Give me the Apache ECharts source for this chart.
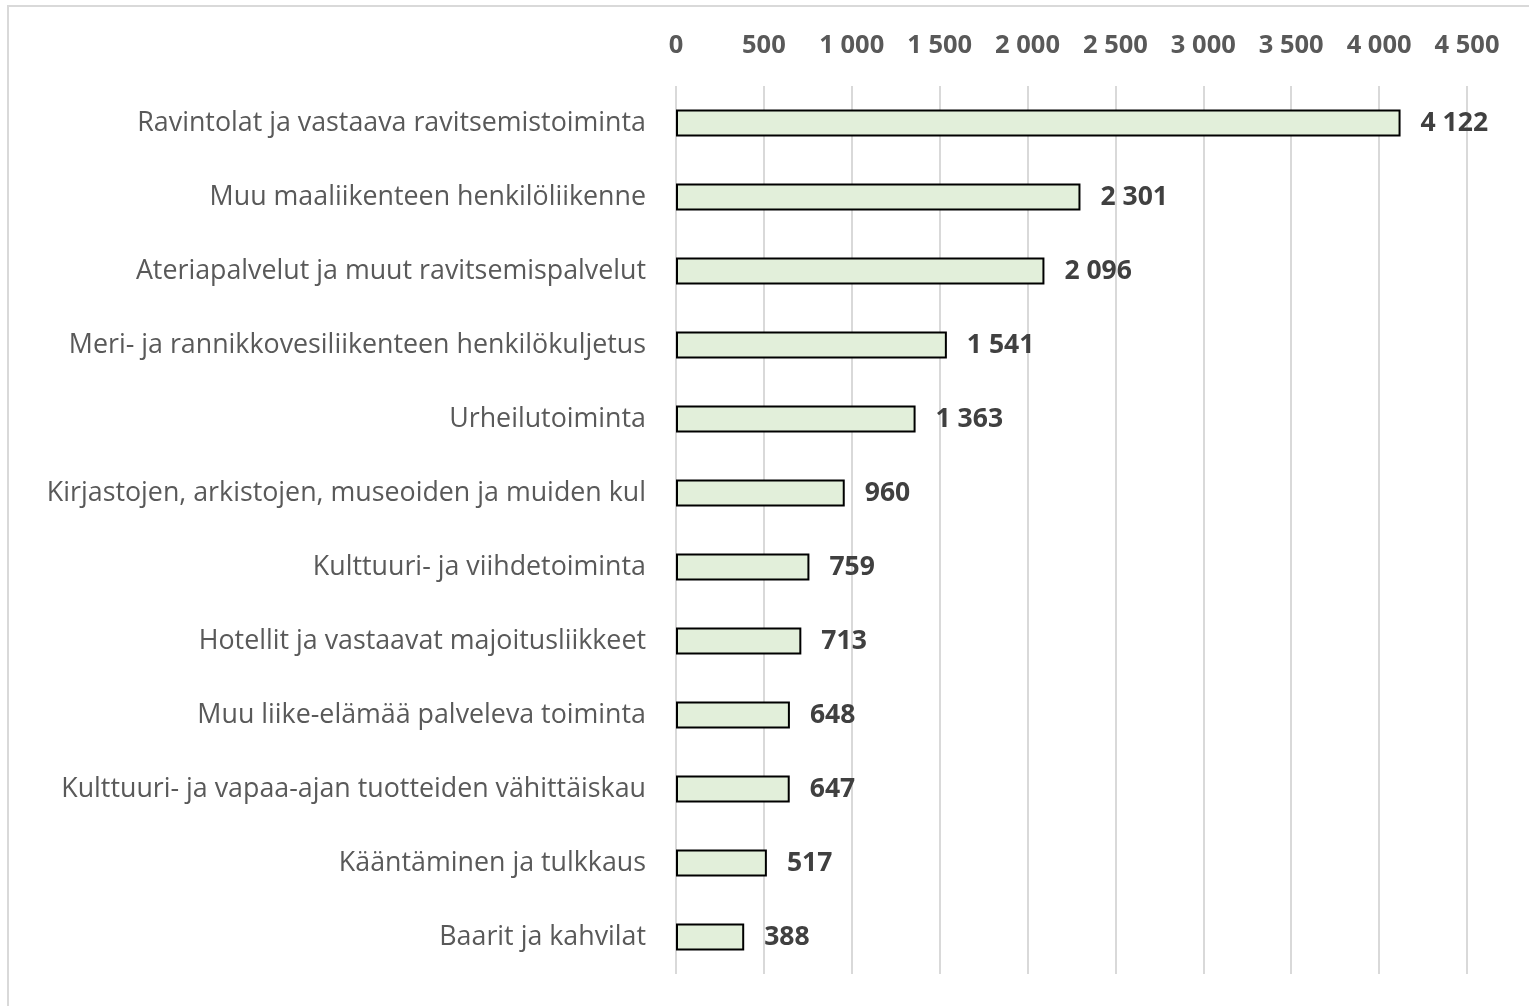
<!DOCTYPE html>
<html><head><meta charset="utf-8">
<script src="https://cdn.jsdelivr.net/npm/echarts@6/dist/echarts.min.js"></script>
<style>html,body{margin:0;padding:0;background:#fff}#c{width:1529px;height:1006px}</style>
</head><body><div id="c"></div>
<script>
const categories = [
  "Ravintolat ja vastaava ravitsemistoiminta",
  "Muu maaliikenteen henkilöliikenne",
  "Ateriapalvelut ja muut ravitsemispalvelut",
  "Meri- ja rannikkovesiliikenteen henkilökuljetus",
  "Urheilutoiminta",
  "Kirjastojen, arkistojen, museoiden ja muiden kul",
  "Kulttuuri- ja viihdetoiminta",
  "Hotellit ja vastaavat majoitusliikkeet",
  "Muu liike-elämää palveleva toiminta",
  "Kulttuuri- ja vapaa-ajan tuotteiden vähittäiskau",
  "Kääntäminen ja tulkkaus",
  "Baarit ja kahvilat"
];
const values = [4122, 2301, 2096, 1541, 1363, 960, 759, 713, 648, 647, 517, 388];
const fmt = v => String(v).replace(/\B(?=(\d{3})+(?!\d))/g, ' ');
const FONT = 'Open Sans';
const chart = echarts.init(document.getElementById('c'), null, {renderer: 'canvas'});
chart.setOption({
  animation: false,
  backgroundColor: '#fff',
  graphic: [{type: 'rect', shape: {x: 8, y: 6, width: 1560, height: 1040}, style: {fill: 'none', stroke: '#D9D9D9', lineWidth: 2}}],
  grid: {left: 676, right: 62, top: 86, bottom: 32, containLabel: false},
  xAxis: {
    type: 'value', position: 'top', min: 0, max: 4500, interval: 500,
    axisLine: {show: false}, axisTick: {show: false},
    splitLine: {show: true, lineStyle: {color: '#D9D9D9', width: 2}},
    axisLabel: {margin: 27, color: '#595959', fontFamily: FONT, fontWeight: 'bold', fontSize: 25.5, formatter: fmt}
  },
  yAxis: {
    type: 'category', data: categories, inverse: true,
    axisLine: {show: false}, axisTick: {show: false},
    axisLabel: {margin: 30, color: '#595959', fontFamily: FONT, fontSize: 26.8}
  },
  series: [{
    type: 'bar', data: values, barWidth: 27,
    itemStyle: {color: '#E2EFDA', borderColor: '#000', borderWidth: 2},
    label: {show: true, position: 'right', distance: 20, color: '#404040', fontFamily: FONT, fontWeight: 'bold', fontSize: 26.5, formatter: p => fmt(p.value)}
  }]
});
</script></body></html>
